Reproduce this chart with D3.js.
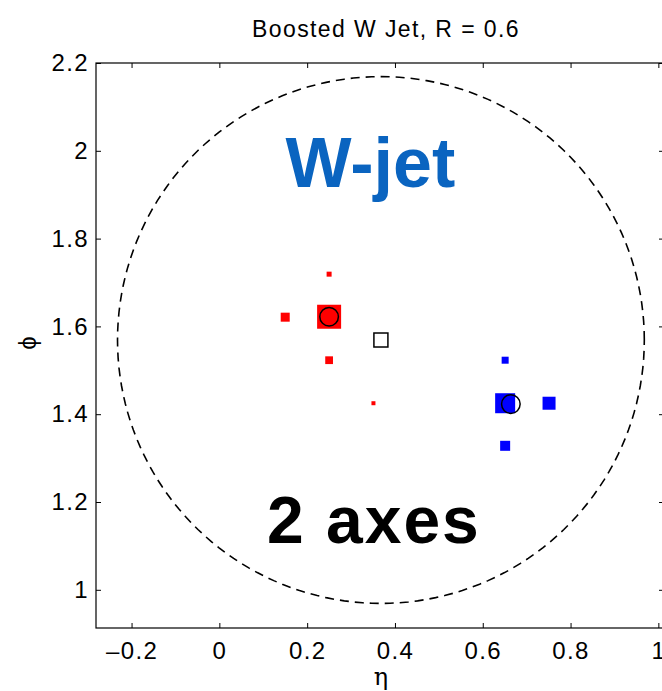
<!DOCTYPE html>
<html>
<head>
<meta charset="utf-8">
<script src="https://cdn.jsdelivr.net/npm/d3@7"></script>
<style>
  body { margin: 0; background: #fff; }
  svg { display: block; font-family: "Liberation Sans", Arial, Helvetica, sans-serif; }
</style>
</head>
<body>
<div id="chart"></div>
<script>
// data
var xTicks = [-0.2, 0, 0.2, 0.4, 0.6, 0.8, 1];
var yTicks = [1, 1.2, 1.4, 1.6, 1.8, 2, 2.2];

// subjet constituents (eta, phi, relative weight)
var redEta = [0.25, 0.15, 0.25, 0.25, 0.351];
var redPhi = [1.622, 1.621, 1.719, 1.523, 1.425];
var redWeight = [96, 36, 20, 31, 16];

var blueEta = [0.651, 0.751, 0.651, 0.651];
var bluePhi = [1.425, 1.425, 1.523, 1.328];
var blueWeight = [80, 52, 28, 40];

// subjet axes (open circles) and jet axis (open square)
var axisEta = [0.25, 0.664];
var axisPhi = [1.622, 1.423];
var jetEta = 0.368;
var jetPhi = 1.569;
var jetR = 0.6;

var width = 662, height = 691;
var margin = { left: 96, top: 63 };
var plotW = 568, plotH = 565;

var svg = d3.select('#chart').append('svg')
    .attr('width', width)
    .attr('height', height);

var g = svg.append('g')
    .attr('transform', 'translate(' + margin.left + ',' + margin.top + ')');

var x = d3.scaleLinear().domain([-0.281, -0.281 + plotW / 439]).range([0, plotW]);
var y = d3.scaleLinear().domain([2.2 - plotH / 439, 2.2]).range([plotH, 0]);
var side = d3.scaleLinear().domain([0, 100]).range([0, 25]);

// jet cone
var cone = d3.range(0, 361, 2).map(function (a) {
    var t = a * Math.PI / 180;
    return [jetEta + jetR * Math.cos(t), jetPhi + jetR * Math.sin(t)];
});
g.append('path')
    .datum(cone)
    .attr('d', d3.line().x(function (d) { return x(d[0]); }).y(function (d) { return y(d[1]); }))
    .attr('fill', 'none')
    .attr('stroke', '#000')
    .attr('stroke-width', 1.6)
    .attr('stroke-dasharray', '9,6');

// labels inside
g.append('text')
    .attr('x', x(0.344))
    .attr('y', y(1.918))
    .attr('text-anchor', 'middle')
    .attr('font-size', 70)
    .attr('font-weight', 'bold')
    .attr('fill', '#0a64c0')
    .text('W-jet');

g.append('text')
    .attr('x', x(0.352))
    .attr('y', y(1.107))
    .attr('text-anchor', 'middle')
    .attr('font-size', 66)
    .attr('font-weight', 'bold')
    .attr('letter-spacing', 2)
    .attr('fill', '#000')
    .text('2 axes');

function squares(eta, phi, w, color) {
    g.append('g').selectAll('rect')
        .data(eta.map(function (e, i) { return { eta: e, phi: phi[i], w: w[i] }; }))
        .enter().append('rect')
        .attr('x', function (d) { return x(d.eta) - side(d.w) / 2; })
        .attr('y', function (d) { return y(d.phi) - side(d.w) / 2; })
        .attr('width', function (d) { return side(d.w); })
        .attr('height', function (d) { return side(d.w); })
        .attr('fill', color);
}
squares(redEta, redPhi, redWeight, '#ff0000');
squares(blueEta, bluePhi, blueWeight, '#0000ff');

g.append('g').selectAll('circle')
    .data(axisEta.map(function (e, i) { return [e, axisPhi[i]]; }))
    .enter().append('circle')
    .attr('cx', function (d) { return x(d[0]); })
    .attr('cy', function (d) { return y(d[1]); })
    .attr('r', 9.3)
    .attr('fill', 'none')
    .attr('stroke', '#000')
    .attr('stroke-width', 1.5);

g.append('rect')
    .attr('x', x(jetEta) - 7)
    .attr('y', y(jetPhi) - 7)
    .attr('width', 14)
    .attr('height', 14)
    .attr('fill', 'none')
    .attr('stroke', '#000')
    .attr('stroke-width', 1.5);

// axes, MATLAB style: box with inward ticks
function styleAxis(sel) {
    sel.select('.domain').remove();
    sel.selectAll('.tick line').attr('stroke', '#000');
    sel.selectAll('.tick text').attr('font-size', 24).attr('fill', '#000')
        .attr('letter-spacing', 1.4)
        .attr('font-family', '"Liberation Sans", Arial, sans-serif');
}
var fmt = function (d) { return d < 0 ? '\u2013' + Math.abs(d) : String(d); };

g.append('g')
    .attr('transform', 'translate(0,' + plotH + ')')
    .call(d3.axisBottom(x).tickValues(xTicks).tickFormat(fmt).tickSizeInner(-5).tickSizeOuter(0).tickPadding(14))
    .call(styleAxis);
g.append('g')
    .call(d3.axisTop(x).tickValues(xTicks).tickFormat('').tickSizeInner(-5).tickSizeOuter(0))
    .call(styleAxis);
g.append('g')
    .call(d3.axisLeft(y).tickValues(yTicks).tickFormat(fmt).tickSizeInner(-5).tickSizeOuter(0).tickPadding(7))
    .call(styleAxis);
g.append('g')
    .attr('transform', 'translate(' + plotW + ',0)')
    .call(d3.axisRight(y).tickValues(yTicks).tickFormat('').tickSizeInner(-5).tickSizeOuter(0))
    .call(styleAxis);

g.append('rect')
    .attr('width', plotW)
    .attr('height', plotH)
    .attr('fill', 'none')
    .attr('stroke', '#000')
    .attr('stroke-width', 1.2);

// titles
svg.append('text')
    .attr('x', 386)
    .attr('y', 37)
    .attr('text-anchor', 'middle')
    .attr('font-size', 23)
    .attr('letter-spacing', 1.4)
    .text('Boosted W Jet, R = 0.6');

svg.append('text')
    .attr('x', margin.left + x(jetEta))
    .attr('y', 685)
    .attr('text-anchor', 'middle')
    .attr('font-size', 24)
    .attr('font-family', '"DejaVu Serif", serif')
    .text('\u03b7');

svg.append('text')
    .attr('transform', 'translate(36,343) rotate(-90)')
    .attr('text-anchor', 'middle')
    .attr('font-size', 24)
    .text('\u03d5');
</script>
</body>
</html>
